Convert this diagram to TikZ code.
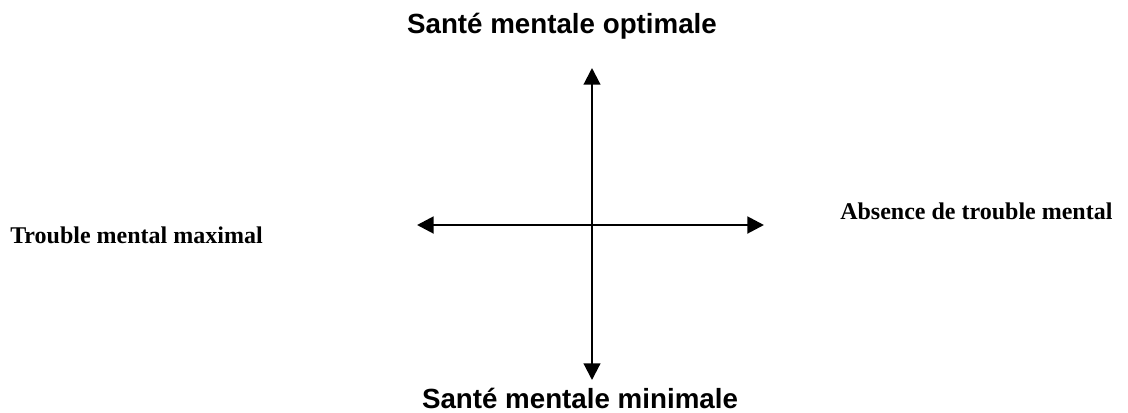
\documentclass[tikz,border=0pt]{standalone}
\usepackage{fontspec}
\setmainfont{Liberation Serif}
\newfontfamily\arialfont{Liberation Sans}
\usetikzlibrary{arrows.meta}
\tikzset{
  axis/.style={line width=2.2pt, {Triangle[length=12.5pt,width=12.5pt]}-{Triangle[length=12.5pt,width=12.5pt]}},
  vlabel/.style={inner sep=0pt, font=\arialfont\bfseries\fontsize{20.8pt}{24pt}\selectfont},
  hlabel/.style={inner sep=0pt, font=\bfseries\fontsize{18pt}{22pt}\selectfont},
}
\begin{document}
\begin{tikzpicture}[x=0.75pt,y=-0.75pt]
\useasboundingbox (0,0) rectangle (1128,412);
\coordinate (T) at (592,68);
\coordinate (B) at (592,380);
\coordinate (L) at (417,225);
\coordinate (R) at (764,225);
\draw[axis, line width=1.6pt] (B) -- (T);
\draw[axis] (L) -- (R);
\node[vlabel, anchor=base] (top) at (562,33) {Santé mentale optimale};
\node[vlabel, anchor=base] (bot) at (580,408) {Santé mentale minimale};
\node[hlabel, anchor=base west] (left) at (10,243) {Trouble mental maximal};
\node[hlabel, anchor=base west] (right) at (840,219) {Absence de trouble mental};
\end{tikzpicture}
\end{document}
